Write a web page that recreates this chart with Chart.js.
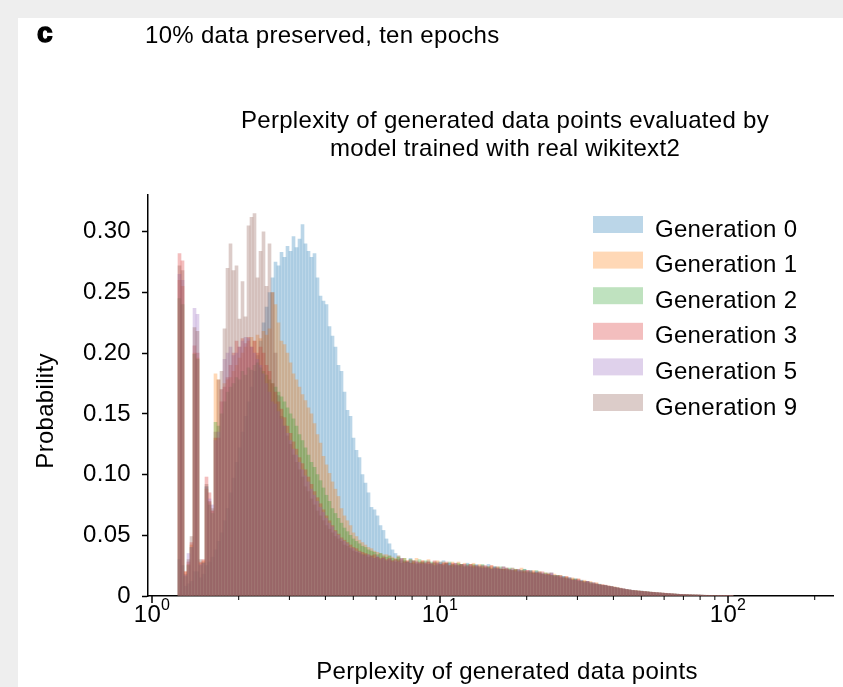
<!DOCTYPE html>
<html>
<head>
<meta charset="utf-8">
<script src="https://cdn.jsdelivr.net/npm/chart.js@4.4.1/dist/chart.umd.min.js"></script>
<style>
  html, body { margin: 0; padding: 0; background: #fff; }
  #frame { position: relative; width: 843px; height: 687px; background: #eeeeee; overflow: hidden; }
  #panel { position: absolute; left: 18px; top: 18px; right: 0; bottom: 0; background: #fff; }
  #chart { position: absolute; left: 0; top: 0; }
</style>
</head>
<body>
<div id="frame"><div id="panel"></div><canvas id="chart" width="843" height="687"></canvas></div>
<script>
const seriesNames = ['Generation 0', 'Generation 1', 'Generation 2', 'Generation 3', 'Generation 5', 'Generation 9'];
const seriesColors = ['31, 119, 180', '255, 127, 14', '44, 160, 44', '214, 39, 40', '148, 103, 189', '140, 86, 75'];

// histogram bins are log spaced, 96 per decade, first edge at perplexity 1.231
const binLow = 1.231;
const binsPerDecade = 96;

const gen0 = [
  0.030, 0.025, 0.008, 0.010, 0.012, 0.020, 0.020, 0.015, 0.018, 0.025, 0.028, 0.032,
  0.038, 0.045, 0.052, 0.062, 0.072, 0.085, 0.097, 0.110, 0.122, 0.135,
  0.148, 0.160, 0.172, 0.185, 0.198, 0.210, 0.225, 0.238, 0.250, 0.262,
  0.275, 0.272, 0.283, 0.279, 0.288, 0.284, 0.296, 0.287, 0.294, 0.306,
  0.290, 0.284, 0.279, 0.282, 0.262, 0.247, 0.243, 0.240, 0.222, 0.214,
  0.205, 0.190, 0.185, 0.168, 0.153, 0.148, 0.130, 0.120, 0.114, 0.100,
  0.093, 0.085, 0.073, 0.071, 0.066, 0.058, 0.054, 0.047, 0.043, 0.038,
  0.035, 0.033, 0.031, 0.029, 0.028, 0.031, 0.027, 0.029, 0.026, 0.028,
  0.027, 0.029, 0.026, 0.028, 0.025, 0.027, 0.029, 0.026, 0.027, 0.025,
  0.027, 0.025, 0.026, 0.024, 0.027, 0.024, 0.025, 0.026, 0.023, 0.025,
  0.023, 0.026, 0.022, 0.024, 0.023, 0.022, 0.024, 0.021, 0.022, 0.023,
  0.021, 0.022, 0.020, 0.022, 0.019, 0.021, 0.019, 0.020, 0.018, 0.019,
  0.018, 0.017, 0.019, 0.016, 0.017, 0.015, 0.016, 0.014, 0.015, 0.013,
  0.014, 0.012, 0.013, 0.011, 0.012, 0.010, 0.011, 0.0095, 0.0098, 0.0085,
  0.0088, 0.0078, 0.0080, 0.0070, 0.0068, 0.0060, 0.0058, 0.0052, 0.0050, 0.0045,
  0.0044, 0.0040, 0.0041, 0.0036, 0.0035, 0.0031, 0.0030, 0.0027, 0.0026, 0.0023,
  0.0022, 0.0019, 0.0018, 0.0016, 0.0015, 0.0013, 0.0012, 0.0011, 0.0010, 0.0009,
  0.0009, 0.0008, 0.0007, 0.0006, 0.0005, 0.0005, 0.0004, 0.0004, 0.0003, 0.0003, 0.0002, 0.0002, 0.0001
];
const gen1 = [
  0.260, 0.255, 0.020, 0.026, 0.042, 0.200, 0.196, 0.027, 0.029, 0.088, 0.077, 0.070,
  0.183, 0.178, 0.170, 0.175, 0.178, 0.180, 0.185, 0.190, 0.196, 0.200,
  0.205, 0.210, 0.213, 0.210, 0.215, 0.212, 0.218, 0.215, 0.220, 0.250,
  0.240, 0.225, 0.210, 0.207, 0.200, 0.192, 0.183, 0.178, 0.172, 0.166,
  0.161, 0.155, 0.150, 0.142, 0.133, 0.126, 0.115, 0.108, 0.101, 0.094,
  0.088, 0.082, 0.072, 0.066, 0.062, 0.058, 0.052, 0.049, 0.046, 0.044,
  0.042, 0.040, 0.039, 0.037, 0.036, 0.035, 0.034, 0.034, 0.033, 0.032,
  0.031, 0.033, 0.030, 0.031, 0.029, 0.030, 0.028, 0.031, 0.028, 0.029,
  0.028, 0.030, 0.027, 0.028, 0.029, 0.026, 0.028, 0.027, 0.025, 0.028,
  0.026, 0.028, 0.025, 0.027, 0.025, 0.026, 0.027, 0.024, 0.026, 0.024,
  0.025, 0.024, 0.025, 0.022, 0.024, 0.023, 0.022, 0.023, 0.021, 0.023,
  0.022, 0.020, 0.023, 0.020, 0.021, 0.020, 0.021, 0.019, 0.020, 0.018,
  0.019, 0.018, 0.017, 0.018, 0.016, 0.017, 0.015, 0.016, 0.014, 0.015,
  0.013, 0.014, 0.012, 0.013, 0.011, 0.012, 0.010, 0.011, 0.0092, 0.0095,
  0.0082, 0.0085, 0.0074, 0.0076, 0.0066, 0.0065, 0.0056, 0.0055, 0.0048, 0.0047,
  0.0042, 0.0043, 0.0038, 0.0037, 0.0033, 0.0032, 0.0028, 0.0028, 0.0024, 0.0024,
  0.0021, 0.0020, 0.0017, 0.0017, 0.0014, 0.0014, 0.0012, 0.0011, 0.0010, 0.0009,
  0.0008, 0.0008, 0.0007, 0.0006, 0.0006, 0.0005, 0.0004, 0.0004, 0.0003, 0.0003, 0.0002, 0.0002, 0.0001
];
const gen2 = [
  0.245, 0.240, 0.016, 0.025, 0.040, 0.199, 0.195, 0.025, 0.027, 0.090, 0.075, 0.068,
  0.143, 0.140, 0.150, 0.160, 0.168, 0.172, 0.175, 0.180, 0.178, 0.185,
  0.182, 0.188, 0.186, 0.190, 0.192, 0.188, 0.185, 0.182, 0.178, 0.175,
  0.172, 0.168, 0.164, 0.160, 0.155, 0.150, 0.146, 0.140, 0.133, 0.128,
  0.122, 0.116, 0.110, 0.106, 0.100, 0.095, 0.089, 0.083, 0.078, 0.072,
  0.068, 0.064, 0.060, 0.056, 0.053, 0.050, 0.047, 0.045, 0.043, 0.041,
  0.040, 0.038, 0.037, 0.036, 0.034, 0.035, 0.033, 0.032, 0.033, 0.031,
  0.030, 0.032, 0.029, 0.031, 0.028, 0.030, 0.029, 0.027, 0.030, 0.028,
  0.029, 0.026, 0.028, 0.027, 0.026, 0.028, 0.025, 0.027, 0.028, 0.026,
  0.025, 0.027, 0.026, 0.025, 0.026, 0.024, 0.026, 0.025, 0.024, 0.026,
  0.023, 0.024, 0.023, 0.024, 0.022, 0.024, 0.022, 0.022, 0.023, 0.021,
  0.022, 0.021, 0.021, 0.022, 0.020, 0.020, 0.019, 0.021, 0.019, 0.018,
  0.019, 0.018, 0.017, 0.017, 0.017, 0.015, 0.016, 0.015, 0.014, 0.014,
  0.014, 0.012, 0.012, 0.012, 0.011, 0.011, 0.010, 0.0098, 0.0094, 0.0088,
  0.0086, 0.0080, 0.0076, 0.0071, 0.0067, 0.0062, 0.0057, 0.0054, 0.0049, 0.0046,
  0.0043, 0.0041, 0.0039, 0.0036, 0.0034, 0.0032, 0.0029, 0.0027, 0.0025, 0.0023,
  0.0021, 0.0019, 0.0017, 0.0016, 0.0015, 0.0013, 0.0012, 0.0011, 0.0010, 0.0009,
  0.0008, 0.0007, 0.0007, 0.0006, 0.0005, 0.0005, 0.0004, 0.0003, 0.0003, 0.0003, 0.0002, 0.0002, 0.0001
];
const gen3 = [
  0.282, 0.276, 0.020, 0.028, 0.044, 0.206, 0.200, 0.028, 0.030, 0.098, 0.085, 0.070,
  0.130, 0.130, 0.160, 0.172, 0.180, 0.190, 0.200, 0.210, 0.205, 0.212,
  0.208, 0.213, 0.205, 0.210, 0.200, 0.205, 0.200, 0.190, 0.185, 0.175,
  0.168, 0.160, 0.154, 0.147, 0.140, 0.134, 0.127, 0.121, 0.114, 0.109,
  0.104, 0.098, 0.092, 0.086, 0.081, 0.076, 0.071, 0.066, 0.062, 0.058,
  0.054, 0.051, 0.048, 0.046, 0.044, 0.042, 0.040, 0.039, 0.037, 0.036,
  0.035, 0.034, 0.033, 0.034, 0.032, 0.031, 0.032, 0.030, 0.031, 0.029,
  0.030, 0.029, 0.031, 0.028, 0.029, 0.027, 0.029, 0.028, 0.027, 0.029,
  0.027, 0.028, 0.026, 0.029, 0.027, 0.026, 0.027, 0.028, 0.025, 0.027,
  0.027, 0.025, 0.026, 0.026, 0.024, 0.026, 0.025, 0.025, 0.024, 0.025,
  0.024, 0.023, 0.025, 0.023, 0.023, 0.022, 0.024, 0.022, 0.022, 0.021,
  0.021, 0.022, 0.020, 0.021, 0.021, 0.019, 0.020, 0.019, 0.019, 0.020,
  0.018, 0.018, 0.019, 0.016, 0.017, 0.016, 0.015, 0.016, 0.014, 0.014,
  0.013, 0.014, 0.012, 0.012, 0.012, 0.010, 0.011, 0.010, 0.0092, 0.0090,
  0.0090, 0.0080, 0.0079, 0.0070, 0.0069, 0.0061, 0.0060, 0.0052, 0.0051, 0.0044,
  0.0045, 0.0040, 0.0040, 0.0036, 0.0035, 0.0031, 0.0031, 0.0027, 0.0027, 0.0023,
  0.0023, 0.0019, 0.0019, 0.0016, 0.0015, 0.0014, 0.0012, 0.0012, 0.0010, 0.0009,
  0.0009, 0.0008, 0.0007, 0.0006, 0.0006, 0.0005, 0.0004, 0.0004, 0.0003, 0.0003, 0.0002, 0.0002, 0.0001
];
const gen5 = [
  0.265, 0.260, 0.017, 0.035, 0.040, 0.237, 0.232, 0.026, 0.027, 0.090, 0.080, 0.075,
  0.128, 0.135, 0.170, 0.195, 0.200, 0.205, 0.198, 0.200, 0.205, 0.210,
  0.213, 0.212, 0.205, 0.200, 0.195, 0.190, 0.183, 0.175, 0.168, 0.160,
  0.158, 0.152, 0.146, 0.140, 0.134, 0.128, 0.121, 0.116, 0.110, 0.104,
  0.099, 0.094, 0.088, 0.083, 0.078, 0.073, 0.069, 0.064, 0.060, 0.057,
  0.053, 0.050, 0.047, 0.045, 0.043, 0.040, 0.039, 0.037, 0.036, 0.034,
  0.033, 0.034, 0.032, 0.031, 0.033, 0.030, 0.031, 0.029, 0.030, 0.028,
  0.029, 0.028, 0.030, 0.027, 0.028, 0.029, 0.026, 0.028, 0.027, 0.026,
  0.028, 0.026, 0.027, 0.025, 0.027, 0.028, 0.025, 0.026, 0.027, 0.024,
  0.026, 0.025, 0.024, 0.026, 0.025, 0.025, 0.023, 0.025, 0.024, 0.023,
  0.025, 0.023, 0.022, 0.024, 0.022, 0.023, 0.021, 0.023, 0.021, 0.022,
  0.020, 0.021, 0.021, 0.019, 0.021, 0.020, 0.018, 0.020, 0.019, 0.018,
  0.018, 0.017, 0.018, 0.017, 0.016, 0.016, 0.016, 0.014, 0.015, 0.013,
  0.013, 0.013, 0.012, 0.011, 0.012, 0.011, 0.010, 0.010, 0.0090, 0.0092,
  0.0084, 0.0083, 0.0074, 0.0073, 0.0065, 0.0064, 0.0057, 0.0055, 0.0049, 0.0047,
  0.0041, 0.0041, 0.0037, 0.0036, 0.0032, 0.0032, 0.0028, 0.0028, 0.0024, 0.0025,
  0.0020, 0.0021, 0.0017, 0.0017, 0.0014, 0.0014, 0.0012, 0.0011, 0.0010, 0.0009,
  0.0008, 0.0008, 0.0007, 0.0006, 0.0005, 0.0005, 0.0004, 0.0004, 0.0003, 0.0003, 0.0002, 0.0002, 0.0001
];
const gen9 = [
  0.272, 0.268, 0.018, 0.030, 0.049, 0.221, 0.218, 0.030, 0.028, 0.092, 0.078, 0.072,
  0.135, 0.178, 0.185, 0.220, 0.270, 0.290, 0.268, 0.272, 0.228, 0.259,
  0.230, 0.305, 0.312, 0.315, 0.262, 0.284, 0.300, 0.255, 0.290, 0.250,
  0.200, 0.165, 0.148, 0.140, 0.132, 0.125, 0.116, 0.110, 0.104, 0.098,
  0.090, 0.086, 0.080, 0.075, 0.070, 0.066, 0.062, 0.058, 0.055, 0.052,
  0.049, 0.047, 0.045, 0.042, 0.041, 0.039, 0.037, 0.036, 0.035, 0.034,
  0.034, 0.032, 0.033, 0.031, 0.032, 0.030, 0.031, 0.029, 0.030, 0.029,
  0.028, 0.030, 0.027, 0.029, 0.028, 0.027, 0.029, 0.026, 0.028, 0.027,
  0.026, 0.028, 0.027, 0.025, 0.028, 0.026, 0.026, 0.027, 0.025, 0.026,
  0.025, 0.026, 0.026, 0.024, 0.025, 0.026, 0.024, 0.024, 0.025, 0.023,
  0.024, 0.024, 0.022, 0.023, 0.024, 0.022, 0.022, 0.023, 0.021, 0.021,
  0.022, 0.020, 0.021, 0.020, 0.020, 0.021, 0.019, 0.019, 0.020, 0.018,
  0.017, 0.019, 0.017, 0.017, 0.016, 0.017, 0.015, 0.015, 0.015, 0.013,
  0.014, 0.013, 0.013, 0.011, 0.012, 0.011, 0.010, 0.0098, 0.0094, 0.0088,
  0.0087, 0.0079, 0.0077, 0.0071, 0.0066, 0.0062, 0.0058, 0.0053, 0.0050, 0.0046,
  0.0043, 0.0040, 0.0038, 0.0036, 0.0034, 0.0031, 0.0030, 0.0027, 0.0025, 0.0024,
  0.0021, 0.0020, 0.0018, 0.0016, 0.0015, 0.0013, 0.0012, 0.0011, 0.0010, 0.0009,
  0.0008, 0.0008, 0.0007, 0.0006, 0.0005, 0.0005, 0.0004, 0.0004, 0.0003, 0.0003, 0.0002, 0.0002, 0.0001
];

const yTicks = [0, 0.05, 0.10, 0.15, 0.20, 0.25, 0.30];
const xMajor = [1, 10, 100];
const xMajorExp = ['0', '1', '2'];
const xMinor = [2, 3, 4, 5, 6, 7, 8, 9, 20, 30, 40, 50, 60, 70, 80, 90, 200];

const FONT = "'Liberation Sans', Arial, sans-serif";
const SPACING = '0.3px';
Chart.defaults.font.family = FONT;
Chart.defaults.font.size = 24;
Chart.defaults.color = '#000';

const allGens = [gen0, gen1, gen2, gen3, gen5, gen9];
const binCenters = gen0.map((_, i) => binLow * Math.pow(10, (i + 0.5) / binsPerDecade));

const datasets = allGens.map((vals, k) => ({
    label: seriesNames[k],
    data: vals.map((v, i) => ({ x: binCenters[i], y: v })),
    backgroundColor: 'rgba(' + seriesColors[k] + ', 0.3)',
    borderWidth: 0,
    grouped: false,
    barPercentage: 1,
    categoryPercentage: 1,
    order: allGens.length - k   // later generations are drawn on top
}));

// titles, legend, log ticks with superscript labels
const figureText = {
    id: 'figureText',
    beforeDraw(chart) {
        chart.ctx.letterSpacing = SPACING;
    },
    afterDraw(chart) {
        const ctx = chart.ctx;
        const xs = chart.scales.x;
        const base = chart.chartArea.bottom;
        ctx.save();
        ctx.letterSpacing = SPACING;
        ctx.fillStyle = '#000';
        ctx.strokeStyle = '#000';

        for (const v of xMinor) {
            const px = xs.getPixelForValue(v);
            ctx.lineWidth = 1;
            ctx.beginPath();
            ctx.moveTo(px, base);
            ctx.lineTo(px, base + 4);
            ctx.stroke();
        }
        xMajor.forEach((v, k) => {
            const px = xs.getPixelForValue(v);
            ctx.lineWidth = 1.5;
            ctx.beginPath();
            ctx.moveTo(px, base);
            ctx.lineTo(px, base + 7);
            ctx.stroke();

            ctx.font = '24px ' + FONT;
            const w1 = ctx.measureText('10').width;
            ctx.font = '16px ' + FONT;
            const w2 = ctx.measureText(xMajorExp[k]).width;
            const left = px - (w1 + w2) / 2;
            ctx.textAlign = 'left';
            ctx.textBaseline = 'alphabetic';
            ctx.font = '24px ' + FONT;
            ctx.fillText('10', left, 622);
            ctx.font = '16px ' + FONT;
            ctx.fillText(xMajorExp[k], left + w1, 610);
        });

        ctx.textBaseline = 'alphabetic';
        ctx.textAlign = 'left';
        ctx.font = 'bold 28px ' + FONT;
        ctx.lineWidth = 1.4;
        ctx.fillText('c', 37, 42);
        ctx.strokeText('c', 37, 42);
        ctx.font = '24px ' + FONT;
        ctx.fillText('10% data preserved, ten epochs', 145, 43);

        ctx.textAlign = 'center';
        ctx.fillText('Perplexity of generated data points evaluated by', 505, 128);
        ctx.fillText('model trained with real wikitext2', 505, 156);
        ctx.fillText('Perplexity of generated data points', 507, 679);

        ctx.save();
        ctx.translate(53, 411);
        ctx.rotate(-Math.PI / 2);
        ctx.fillText('Probability', 0, 0);
        ctx.restore();

        // legend
        ctx.textAlign = 'left';
        seriesNames.forEach((name, k) => {
            const top = 216 + k * 35.6;
            ctx.fillStyle = 'rgba(' + seriesColors[k] + ', 0.3)';
            ctx.fillRect(593, top, 50, 17);
            ctx.fillStyle = '#000';
            ctx.fillText(name, 655, top + 20.5);
        });
        ctx.restore();
    }
};

new Chart(document.getElementById('chart'), {
    type: 'bar',
    data: { datasets: datasets },
    options: {
        responsive: false,
        animation: false,
        layout: { padding: { left: 0, right: 10, top: 195, bottom: 0 } },
        plugins: {
            legend: { display: false },
            tooltip: { enabled: false }
        },
        scales: {
            x: {
                type: 'logarithmic',
                min: 0.9685,
                max: 231.5,
                offset: false,
                afterBuildTicks: s => { s.ticks = xMajor.concat(xMinor).sort((a, b) => a - b).map(v => ({ value: v })); },
                afterFit: s => { s.height = 91; },
                ticks: { display: false },
                grid: { display: false, offset: false },
                border: { color: '#000', width: 1.5 },
                z: 1
            },
            y: {
                min: 0,
                max: 0.3303,
                afterBuildTicks: s => { s.ticks = yTicks.map(v => ({ value: v })); },
                afterFit: s => { s.width = 148; },
                ticks: { padding: 11, callback: v => v === 0 ? '0' : v.toFixed(2) },
                grid: { drawOnChartArea: false, tickLength: 6, tickWidth: 1.5, tickColor: '#000' },
                border: { color: '#000', width: 1.5 },
                z: 1
            }
        }
    },
    plugins: [figureText]
});
</script>
</body>
</html>
